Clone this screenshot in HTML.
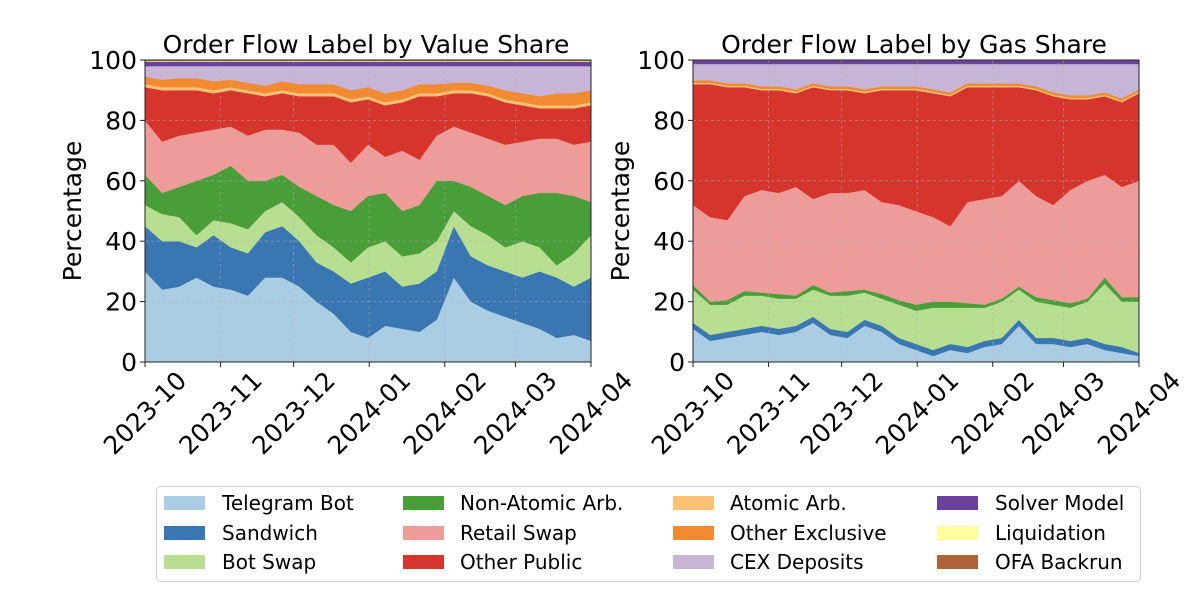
<!DOCTYPE html>
<html><head><meta charset="utf-8"><style>
html,body{margin:0;padding:0;background:#fff;width:1200px;height:600px;overflow:hidden}
svg text{font-family:"DejaVu Sans","Liberation Sans",sans-serif;fill:#000}
</style></head><body>
<svg id="chart" width="1200" height="600" xmlns="http://www.w3.org/2000/svg"></svg>
<script>
const tickLabels = ["2023-10","2023-11","2023-12","2024-01","2024-02","2024-03","2024-04"];
const tickDays = [0,31,61,92,123,152,183];
const yTicks = [0,20,40,60,80,100];
const seriesNames = ["Telegram Bot","Sandwich","Bot Swap","Non-Atomic Arb.","Retail Swap","Other Public","Atomic Arb.","Other Exclusive","CEX Deposits","Solver Model","Liquidation","OFA Backrun"];
const colors = ["#abcde3","#3a77b2","#b8de91","#4a9e3a","#ee9c9a","#d5352c","#fbc276","#f28a32","#c7b5d8","#6a419b","#ffff9e","#b0633a"];

// Value share (weekly samples)
const vTelegram = [30,24,25,28,25,24,22,28,28,25,20,16,10,8,12,11,10,14,28,20,17,15,13,11,8,9,7];
const vSandwich = [15,16,15,10,17,14,14,15,17,15,13,14,16,20,18,14,16,16,17,15,15,15,15,19,20,16,21];
const vBotSwap = [7,9,8,4,5,8,8,7,8,8,9,8,7,10,10,10,10,10,5,10,10,8,12,8,4,11,14];
const vNonAtomic = [10,7,10,18,15,19,16,10,9,10,13,14,17,17,16,15,16,20,10,13,13,14,15,18,24,19,11];
const vRetail = [18,17,17,16,15,13,15,17,15,18,17,20,16,17,12,20,15,15,18,18,19,20,18,18,18,17,20];
const vOtherPublic = [11,17,15,14,12,12,14,11,12,12,16,16,20,15,17,16,21,13,11,13,14,14,12,10,10,12,12];
const vAtomic = [1,1,1,1,1,1,1,1,1,1,1,1,1,1,1,1,1,1,1,1,1,1,1,1,1,1,1];
const vOtherExcl = [2.5,2.5,3,3,3,2.5,2.5,2.5,3,3,3,3,3,3,3,3,3,3,2.5,2.5,2.5,3,3,3,4,4,4];
const vCex = [3.5,4.5,4,4,5,4.5,5.5,6.5,5,6,6,6,8,7,9,8,6,6,5.5,5.5,6.5,8,9,10,9,9,8];
const vSolver = [1.5,1.5,1.5,1.5,1.5,1.5,1.5,1.5,1.5,1.5,1.5,1.5,1.5,1.5,1.5,1.5,1.5,1.5,1.5,1.5,1.5,1.5,1.5,1.5,1.5,1.5,1.5];
const vLiq = [0.3,0.3,0.3,0.3,0.3,0.3,0.3,0.3,0.3,0.3,0.3,0.3,0.3,0.3,0.3,0.3,0.3,0.3,0.3,0.3,0.3,0.3,0.3,0.3,0.3,0.3,0.3];
const vOfa = [0.2,0.2,0.2,0.2,0.2,0.2,0.2,0.2,0.2,0.2,0.2,0.2,0.2,0.2,0.2,0.2,0.2,0.2,0.2,0.2,0.2,0.2,0.2,0.2,0.2,0.2,0.2];

// Gas share (weekly samples)
const gTelegram = [11,7,8,9,10,9,10,13,9,8,12,10,6,4,2,4,3,5,6,12,6,6,5,6,4,3,2];
const gSandwich = [2,2,2,2,2,2,2,2,2,2,2,2,2,2,2,2,2,2,2,2,2,2,2,2,2,2,1];
const gBotSwap = [11,10,9,11,10,10,9,9,11,12,9,9,11,11,14,12,13,11,12,10,12,11,11,12,20,15,17];
const gNonAtomic = [1.5,1,1.5,1.5,1,1.5,1,1.5,1,1.5,1,1.5,1.5,2,2,2,1.5,1,1,1,1.5,1.5,1.5,1,2,1.5,1.5];
const gRetail = [26.5,28,26.5,31.5,34,33.5,36,28.5,33,32.5,33,30.5,31.5,31,28,25,33.5,35,34,35,33.5,31.5,37.5,39,34,36.5,38.5];
const gOtherPublic = [40,44,44,36,33,34,31,37,34,34,32,37,38,40,41,43,38,37,36,31,35,36,30,27,26,28,29];
const gAtomic = [0.5,0.5,0.5,0.5,0.5,0.5,0.5,0.5,0.5,0.5,0.5,0.5,0.5,0.5,0.5,0.5,0.5,0.5,0.5,0.5,0.5,0.5,0.5,0.5,0.5,0.5,0.5];
const gOtherExcl = [0.8,0.8,0.8,0.8,0.8,0.8,0.8,0.8,0.8,0.8,0.8,0.8,0.8,0.8,0.8,0.8,0.8,0.8,0.8,0.8,0.8,0.8,0.8,0.8,0.8,0.8,0.8];
const gCex = [5.4,5.4,6.4,6.4,7.4,7.4,8.4,6.4,7.4,7.4,8.4,7.4,7.4,7.4,8.4,9.4,6.4,6.4,6.4,6.4,7.4,9.4,10.4,10.4,9.4,11.4,8.4];
const gSolver = [1.2,1.2,1.2,1.2,1.2,1.2,1.2,1.2,1.2,1.2,1.2,1.2,1.2,1.2,1.2,1.2,1.2,1.2,1.2,1.2,1.2,1.2,1.2,1.2,1.2,1.2,1.2];
const gLiq = [0.05,0.05,0.05,0.05,0.05,0.05,0.05,0.05,0.05,0.05,0.05,0.05,0.05,0.05,0.05,0.05,0.05,0.05,0.05,0.05,0.05,0.05,0.05,0.05,0.05,0.05,0.05];
const gOfa = [0.05,0.05,0.05,0.05,0.05,0.05,0.05,0.05,0.05,0.05,0.05,0.05,0.05,0.05,0.05,0.05,0.05,0.05,0.05,0.05,0.05,0.05,0.05,0.05,0.05,0.05,0.05];

const NS = "http://www.w3.org/2000/svg";
const svg = document.getElementById("chart");
function mk(tag, attrs, parent){const e=document.createElementNS(NS,tag);for(const k in attrs)e.setAttribute(k,attrs[k]);(parent||svg).appendChild(e);return e;}

function drawPanel(px, title, series, key){
  const L=px, R=px+446, T=60, B=362;
  const g = mk("g",{});
  
  
  const n = series[0].length;
  const xs = i => L + (i/(n-1))*(R-L);
  const ys = v => B - (v/100)*(B-T);
  const xd = d => L + (d/183)*(R-L);
  const tot = series[0].map((_,i)=>series.reduce((s,a)=>s+a[i],0));
  let lower = new Array(n).fill(0);
  series.forEach((arr,si)=>{
    const upper = lower.map((v,i)=>v + arr[i]/tot[i]*100);
    let d = "M"+xs(0)+","+ys(upper[0]);
    for(let i=1;i<n;i++) d+=" L"+xs(i).toFixed(2)+","+ys(upper[i]).toFixed(2);
    for(let i=n-1;i>=0;i--) d+=" L"+xs(i).toFixed(2)+","+ys(lower[i]).toFixed(2);
    d+="Z";
    const p = mk("path",{d:d,fill:colors[si],stroke:colors[si],"stroke-width":0.5},g);
    
    
    lower = upper;
  });
  tickDays.forEach(d=>{
    const l = mk("line",{x1:xd(d),x2:xd(d),y1:T,y2:B,stroke:"#b0b0b0","stroke-width":0.8,"stroke-dasharray":"3,3","stroke-opacity":0.6},g);
    
    
  });
  yTicks.forEach(v=>{
    const l = mk("line",{x1:L,x2:R,y1:ys(v),y2:ys(v),stroke:"#b0b0b0","stroke-width":0.8,"stroke-dasharray":"3,3","stroke-opacity":0.6},g);
    
    
  });
  const fr = mk("rect",{x:L,y:T,width:R-L,height:B-T,fill:"none",stroke:"#222","stroke-width":1},g);
  
  
  yTicks.forEach(v=>{
    mk("line",{x1:L-5,x2:L,y1:ys(v),y2:ys(v),stroke:"#222","stroke-width":1},g);
    const t = mk("text",{x:L-8,y:ys(v)+9,"text-anchor":"end","font-size":25},g);
    t.textContent = v;
    
    
  });
  tickDays.forEach((d,i)=>{
    mk("line",{x1:xd(d),x2:xd(d),y1:B,y2:B+5,stroke:"#222","stroke-width":1},g);
    const cx = xd(d), cy = B+51;
    const t = mk("text",{x:cx,y:cy,"text-anchor":"middle","dominant-baseline":"central","font-size":25,transform:"rotate(-45 "+cx+" "+cy+")"},g);
    t.textContent = tickLabels[i];
    
    
  });
  const tt = mk("text",{x:(L+R)/2-2,y:53,"text-anchor":"middle","font-size":25},g);
  tt.textContent = title;
  
  
  const yx = L-64, yy=(T+B)/2;
  const yl = mk("text",{x:yx,y:yy,"text-anchor":"middle","font-size":25,transform:"rotate(-90 "+yx+" "+yy+")"},g);
  yl.textContent = "Percentage";
  
  
}

drawPanel(145,"Order Flow Label by Value Share",[vTelegram,vSandwich,vBotSwap,vNonAtomic,vRetail,vOtherPublic,vAtomic,vOtherExcl,vCex,vSolver,vLiq,vOfa],"value");
drawPanel(693,"Order Flow Label by Gas Share",[gTelegram,gSandwich,gBotSwap,gNonAtomic,gRetail,gOtherPublic,gAtomic,gOtherExcl,gCex,gSolver,gLiq,gOfa],"gas");

const lg = mk("g",{});


mk("rect",{x:156.5,y:486.5,width:984,height:95,rx:4,fill:"#fff",stroke:"#d0d0d0","stroke-width":1},lg);
const colPatch=[164,403,673,937], colText=[222,460,730,995], rowY=[503,533,562];
seriesNames.forEach((nm,i)=>{
  const c=Math.floor(i/3), r=i%3;
  const e = mk("g",{},lg);
  
  
  mk("rect",{x:colPatch[c],y:rowY[r]-7,width:41,height:14,fill:colors[i]},e);
  const t = mk("text",{x:colText[c],y:rowY[r]+7,"font-size":20},e);
  t.textContent = nm;
});
</script>
</body></html>
